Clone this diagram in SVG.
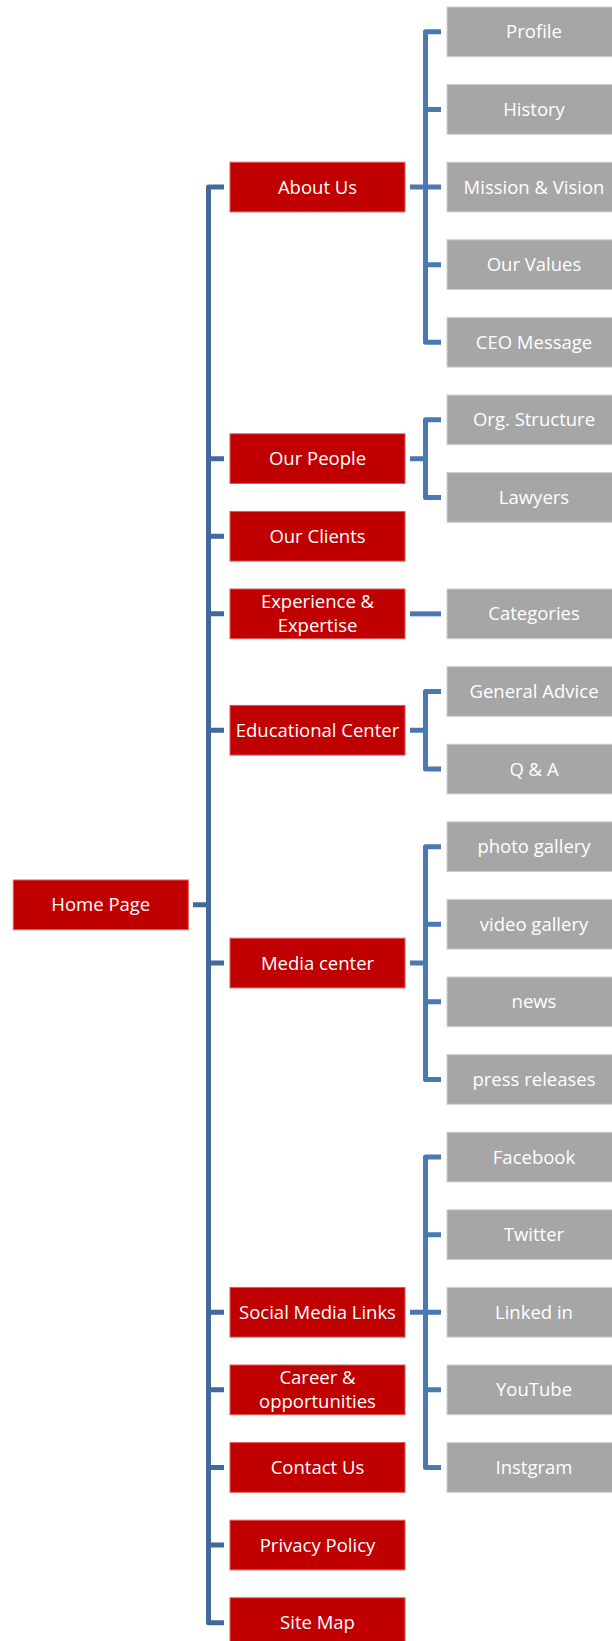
<svg xmlns="http://www.w3.org/2000/svg" width="612" height="1641" viewBox="0 0 612 1641">
<style>
.r{fill:#C00000;stroke:#E05A5A;stroke-width:1}
.g{fill:#A6A6A6;stroke:#CFCFCF;stroke-width:1}
text{font-family:"Open Sans","Liberation Sans",sans-serif;font-size:18.5px;fill:#FFFFFF;text-anchor:middle}
.m{fill:none;stroke:#41699B;stroke-width:5;stroke-linejoin:round}
.c{fill:none;stroke:#4A78B2;stroke-width:5;stroke-linejoin:round}
</style>
<rect width="612" height="1641" fill="#FFFFFF"/>
<g id="connectors">
<path class="m" d="M224,187.05 H208.5 V1622.65 H224"/>
<path class="m" d="M193,904.85 H208.5 M208.5,458.65 H224 M208.5,536.25 H224 M208.5,613.85 H224 M208.5,730.25 H224 M208.5,963.05 H224 M208.5,1312.25 H224 M208.5,1389.85 H224 M208.5,1467.45 H224 M208.5,1545.05 H224"/>
<path class="c" d="M441,31.85 H425.5 V342.25 H441 M425.5,109.45 H441 M425.5,264.65 H441 M410,187.05 H441"/>
<path class="c" d="M441,419.85 H425.5 V497.45 H441 M410,458.65 H425.5"/>
<path class="c" d="M410,613.85 H441"/>
<path class="c" d="M441,691.45 H425.5 V769.05 H441 M410,730.25 H425.5"/>
<path class="c" d="M441,846.65 H425.5 V1079.45 H441 M425.5,924.25 H441 M425.5,1001.85 H441 M410,963.05 H425.5"/>
<path class="c" d="M441,1157.05 H425.5 V1467.45 H441 M425.5,1234.65 H441 M425.5,1389.85 H441 M410,1312.25 H441"/>
</g>
<g id="home"><rect class="r" x="13.3" y="880" width="175" height="49.7"/><text x="100.8" y="911.3">Home Page</text></g>
<g id="about"><rect class="r" x="230" y="162.2" width="175" height="49.7"/><text x="317.5" y="193.5">About Us</text></g>
<g id="people"><rect class="r" x="230" y="433.8" width="175" height="49.7"/><text x="317.5" y="465.1">Our People</text></g>
<g id="clients"><rect class="r" x="230" y="511.4" width="175" height="49.7"/><text x="317.5" y="542.7">Our Clients</text></g>
<g id="experience"><rect class="r" x="230" y="589" width="175" height="49.7"/><text x="317.5" y="608.3">Experience &amp;</text><text x="317.5" y="631.6">Expertise</text></g>
<g id="educational"><rect class="r" x="230" y="705.4" width="175" height="49.7"/><text x="317.5" y="736.7">Educational Center</text></g>
<g id="media"><rect class="r" x="230" y="938.2" width="175" height="49.7"/><text x="317.5" y="969.5">Media center</text></g>
<g id="social"><rect class="r" x="230" y="1287.4" width="175" height="49.7"/><text x="317.5" y="1318.7">Social Media Links</text></g>
<g id="career"><rect class="r" x="230" y="1365" width="175" height="49.7"/><text x="317.5" y="1384.3">Career &amp;</text><text x="317.5" y="1407.6">opportunities</text></g>
<g id="contact"><rect class="r" x="230" y="1442.6" width="175" height="49.7"/><text x="317.5" y="1473.9">Contact Us</text></g>
<g id="privacy"><rect class="r" x="230" y="1520.2" width="175" height="49.7"/><text x="317.5" y="1551.5">Privacy Policy</text></g>
<g id="sitemap"><rect class="r" x="230" y="1597.8" width="175" height="49.7"/><text x="317.5" y="1629.1">Site Map</text></g>
<g id="profile"><rect class="g" x="447" y="7" width="175" height="49.7"/><text x="534" y="38.3">Profile</text></g>
<g id="history"><rect class="g" x="447" y="84.6" width="175" height="49.7"/><text x="534" y="115.9">History</text></g>
<g id="mission"><rect class="g" x="447" y="162.2" width="175" height="49.7"/><text x="534" y="193.5">Mission &amp; Vision</text></g>
<g id="values"><rect class="g" x="447" y="239.8" width="175" height="49.7"/><text x="534" y="271.1">Our Values</text></g>
<g id="ceo"><rect class="g" x="447" y="317.4" width="175" height="49.7"/><text x="534" y="348.7">CEO Message</text></g>
<g id="org"><rect class="g" x="447" y="395" width="175" height="49.7"/><text x="534" y="426.3">Org. Structure</text></g>
<g id="lawyers"><rect class="g" x="447" y="472.6" width="175" height="49.7"/><text x="534" y="503.9">Lawyers</text></g>
<g id="categories"><rect class="g" x="447" y="589" width="175" height="49.7"/><text x="534" y="620.3">Categories</text></g>
<g id="advice"><rect class="g" x="447" y="666.6" width="175" height="49.7"/><text x="534" y="697.9">General Advice</text></g>
<g id="qa"><rect class="g" x="447" y="744.2" width="175" height="49.7"/><text x="534" y="775.5">Q &amp; A</text></g>
<g id="photo"><rect class="g" x="447" y="821.8" width="175" height="49.7"/><text x="534" y="853.1">photo gallery</text></g>
<g id="video"><rect class="g" x="447" y="899.4" width="175" height="49.7"/><text x="534" y="930.7">video gallery</text></g>
<g id="news"><rect class="g" x="447" y="977" width="175" height="49.7"/><text x="534" y="1008.3">news</text></g>
<g id="press"><rect class="g" x="447" y="1054.6" width="175" height="49.7"/><text x="534" y="1085.9">press releases</text></g>
<g id="facebook"><rect class="g" x="447" y="1132.2" width="175" height="49.7"/><text x="534" y="1163.5">Facebook</text></g>
<g id="twitter"><rect class="g" x="447" y="1209.8" width="175" height="49.7"/><text x="534" y="1241.1">Twitter</text></g>
<g id="linkedin"><rect class="g" x="447" y="1287.4" width="175" height="49.7"/><text x="534" y="1318.7">Linked in</text></g>
<g id="youtube"><rect class="g" x="447" y="1365" width="175" height="49.7"/><text x="534" y="1396.3">YouTube</text></g>
<g id="instgram"><rect class="g" x="447" y="1442.6" width="175" height="49.7"/><text x="534" y="1473.9">Instgram</text></g>
</svg>
